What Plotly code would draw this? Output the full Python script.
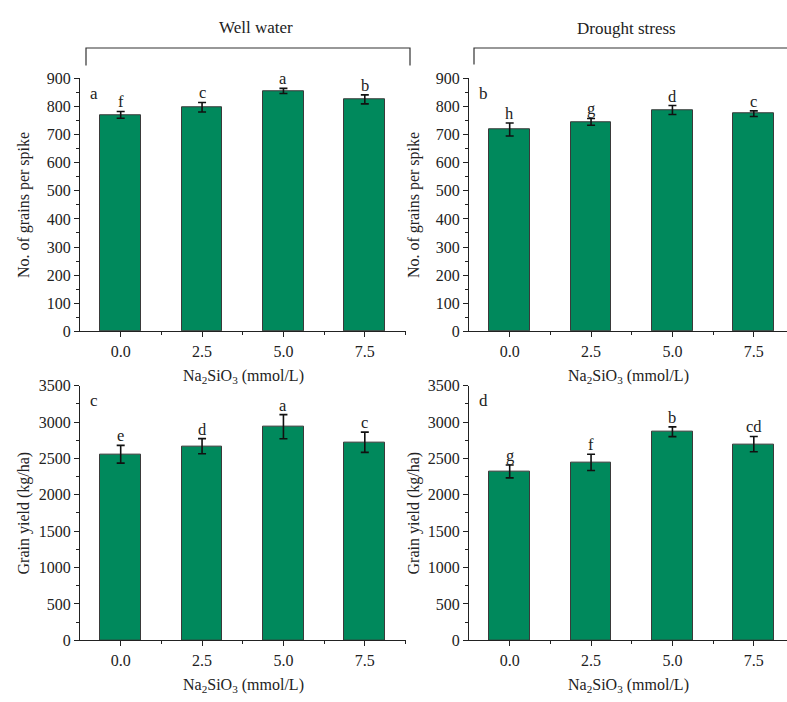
import plotly.graph_objects as go

# Na2SiO3 concentrations (mmol/L)
doses = [0.0, 2.5, 5.0, 7.5]
dose_labels = ["0.0", "2.5", "5.0", "7.5"]

# Panel a: grains per spike, well water
grains_ww = [770, 797, 855, 825]
grains_ww_err = [12, 17, 9, 16]
grains_ww_sig = ["f", "c", "a", "b"]

# Panel b: grains per spike, drought stress
grains_ds = [718, 745, 787, 774]
grains_ds_err = [23, 12, 16, 10]
grains_ds_sig = ["h", "g", "d", "c"]

# Panel c: grain yield, well water
yield_ww = [2557, 2668, 2935, 2722]
yield_ww_err = [122, 104, 166, 139]
yield_ww_sig = ["e", "d", "a", "c"]

# Panel d: grain yield, drought stress
yield_ds = [2321, 2446, 2866, 2696]
yield_ds_err = [89, 112, 67, 105]
yield_ds_sig = ["g", "f", "b", "cd"]

W, H = 787, 702
FONT = "Liberation Serif"
BAR_COLOR = "#00895C"
TXT = "#222"


def px_x(x):
    return x / W


def px_y(y):
    return (H - y) / H


panels = [
    # (xaxis id, yaxis id, values, errors, letters, panel letter, y max, y step, x range)
    ("x", "y", grains_ww, grains_ww_err, grains_ww_sig, "a", 900, 100, [-1.25, 8.75]),
    ("x2", "y2", grains_ds, grains_ds_err, grains_ds_sig, "b", 900, 100, [-1.25, 8.52]),
    ("x3", "y3", yield_ww, yield_ww_err, yield_ww_sig, "c", 3500, 500, [-1.25, 8.75]),
    ("x4", "y4", yield_ds, yield_ds_err, yield_ds_sig, "d", 3500, 500, [-1.25, 8.52]),
]

x_domains = {
    "left": [px_x(80), px_x(405.5)],
    "right": [px_x(469), 1.0],
}
y_domains = {
    "top": [px_y(331.5), px_y(72)],
    "bottom": [px_y(648), px_y(387)],
}

fig = go.Figure()
annotations = []

layout_axes = {}
for i, (xa, ya, vals, errs, sig, letter, ymax, ystep, xrange) in enumerate(panels):
    col = "left" if i % 2 == 0 else "right"
    row = "top" if i < 2 else "bottom"
    fig.add_trace(go.Bar(
        x=doses, y=vals, width=1.25,
        marker=dict(color=BAR_COLOR, line=dict(color="#3a3a3a", width=1)),
        error_y=dict(type="data", array=errs, color="#111", thickness=1.6, width=4),
        xaxis=xa, yaxis=ya, showlegend=False,
    ))
    xkey = "xaxis" + xa[1:]
    ykey = "yaxis" + ya[1:]
    layout_axes[xkey] = dict(
        domain=x_domains[col], anchor=ya, range=xrange,
        tickmode="array", tickvals=doses, ticktext=dose_labels,
        ticks="outside", ticklen=5, tickwidth=1, tickcolor=TXT,
        minor=dict(tickvals=[1.25, 3.75, 6.25, 8.75], ticks="outside",
                   ticklen=3, tickwidth=1, tickcolor=TXT),
        showline=True, linecolor=TXT, linewidth=1,
        showgrid=False, zeroline=False,
        tickfont=dict(family=FONT, size=16, color=TXT),
    )
    layout_axes[ykey] = dict(
        domain=y_domains[row], anchor=xa, range=[0, ymax],
        tickmode="linear", tick0=0, dtick=ystep,
        ticks="outside", ticklen=5, tickwidth=1, tickcolor=TXT,
        minor=dict(dtick=ystep / 2, ticks="outside", ticklen=3,
                   tickwidth=1, tickcolor=TXT),
        showline=True, linecolor=TXT, linewidth=1,
        showgrid=False, zeroline=False,
        tickfont=dict(family=FONT, size=16, color=TXT),
    )
    # significance letters above the error bars
    for d, v, e, s in zip(doses, vals, errs, sig):
        annotations.append(dict(
            x=d, y=v + e, xref=xa, yref=ya, text=s, showarrow=False,
            yanchor="bottom", yshift=-2,
            font=dict(family=FONT, size=16.5, color=TXT),
        ))
    # panel letter
    annotations.append(dict(
        x=0.025, y=0.94, xref=xa + " domain", yref=ya + " domain",
        text=letter, showarrow=False, xanchor="left", yanchor="middle",
        font=dict(family=FONT, size=17, color=TXT),
    ))

# axis titles
xtitle = "Na<sub>2</sub>SiO<sub>3</sub> (mmol/L)"
for xc in [243, 628]:
    for yc in [378, 694]:
        annotations.append(dict(
            x=px_x(xc), y=px_y(yc), xref="paper", yref="paper", text=xtitle,
            showarrow=False, xanchor="center", yanchor="middle",
            font=dict(family=FONT, size=16, color=TXT),
        ))
for xc in [24, 414]:
    annotations.append(dict(
        x=px_x(xc), y=px_y(202), xref="paper", yref="paper",
        text="No. of grains per spike", textangle=-90, showarrow=False,
        xanchor="center", yanchor="middle",
        font=dict(family=FONT, size=16, color=TXT),
    ))
    annotations.append(dict(
        x=px_x(xc), y=px_y(518), xref="paper", yref="paper",
        text="Grain yield (kg/ha)", textangle=-90, showarrow=False,
        xanchor="center", yanchor="middle",
        font=dict(family=FONT, size=16, color=TXT),
    ))

# treatment headers
annotations.append(dict(
    x=px_x(256), y=px_y(20), xref="paper", yref="paper", text="Well water",
    showarrow=False, xanchor="center", yanchor="middle",
    font=dict(family=FONT, size=17, color=TXT),
))
annotations.append(dict(
    x=px_x(626), y=px_y(21), xref="paper", yref="paper", text="Drought stress",
    showarrow=False, xanchor="center", yanchor="middle",
    font=dict(family=FONT, size=17, color=TXT),
))

shapes = [
    dict(type="path", xref="paper", yref="paper",
         path=f"M {px_x(86)},{px_y(59)} L {px_x(86)},{px_y(41)} "
              f"L {px_x(410)},{px_y(41)} L {px_x(410)},{px_y(59)}",
         line=dict(color="#333", width=1.2)),
    dict(type="path", xref="paper", yref="paper",
         path=f"M {px_x(474)},{px_y(58)} L {px_x(474)},{px_y(41)} L 1,{px_y(41)}",
         line=dict(color="#333", width=1.2)),
]

fig.update_layout(
    width=W, height=H,
    margin=dict(l=0, r=0, t=0, b=0),
    paper_bgcolor="white", plot_bgcolor="white",
    annotations=annotations, shapes=shapes,
    bargap=0, **layout_axes,
)

fig.write_html("out.html")
